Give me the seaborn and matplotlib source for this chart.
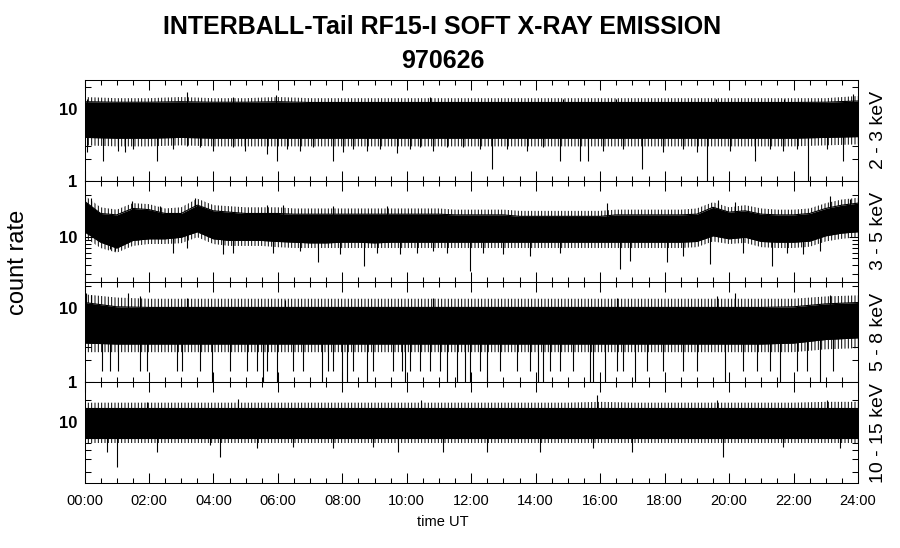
import numpy as np
import pandas as pd
import matplotlib
matplotlib.use('Agg')
import matplotlib.pyplot as plt
import matplotlib.ticker as mticker
import seaborn as sns

sns.set_style('ticks')
plt.rcParams['font.family'] = ['Liberation Sans', 'DejaVu Sans']
plt.rcParams['text.color'] = 'black'
plt.rcParams['xtick.color'] = 'black'
plt.rcParams['ytick.color'] = 'black'
plt.rcParams['axes.labelcolor'] = 'black'
plt.rcParams['hatch.color'] = 'black'
plt.rcParams['hatch.linewidth'] = 0.7

# ---- data (count rate envelopes, hours UT) ----
hours = list(range(25))
half_hours = list(np.arange(0, 24.5, 0.5))

# 2 - 3 keV
p1_top_fuzz = [14.5, 14, 14, 14.5, 14, 14, 14.5, 14, 14, 14, 14, 14, 14,
               14, 14, 14, 14, 14, 14, 14, 14, 14, 14, 14, 15]
p1_top = [12.5, 12.3, 12.3, 12.5, 12.3, 12.3, 12.5, 12.2, 12.2, 12.2, 12.2, 12.2, 12.2,
          12.2, 12.2, 12.2, 12.2, 12.2, 12.2, 12.2, 12.2, 12.2, 12.2, 12.3, 12.8]
p1_bot = [4.0, 3.9, 3.9, 4.0, 3.9, 3.9, 3.9, 3.9, 3.9, 3.9, 3.9, 3.9, 3.9,
          3.9, 3.9, 3.9, 3.9, 3.9, 3.9, 3.9, 3.9, 3.9, 3.9, 4.0, 4.1]
p1_bot_fuzz = [3.1, 3.0, 3.0, 3.1, 3.0, 3.0, 3.0, 3.0, 3.0, 3.0, 3.0, 3.0, 3.0,
               3.0, 3.0, 3.0, 3.0, 3.0, 3.0, 3.0, 3.0, 3.0, 3.0, 3.1, 3.2]
p1_dn_t = [0.07, 0.58, 1.05, 1.26, 1.51, 2.24, 2.76, 3.17, 3.58, 4.0, 4.62, 4.98, 5.65,
           5.96, 6.27, 6.69, 7.1, 7.72, 8.03, 8.34, 8.76, 9.17, 9.69, 10.1, 10.41, 10.82,
           11.24, 11.75, 12.27, 12.63, 13.1, 13.72, 14.23, 14.75, 15.37, 15.63, 16.1, 16.72,
           17.29, 17.96, 18.58, 19.0, 19.31, 20.03, 20.8, 21.27, 21.68, 22.1, 22.46, 23.03, 23.54]
p1_dn_v = [2.48, 1.9, 2.62, 2.48, 2.77, 1.9, 2.77, 3.08, 2.91, 2.62, 2.91, 2.62, 2.35,
           1.9, 2.77, 2.62, 2.91, 1.9, 2.48, 2.77, 2.62, 2.77, 2.45, 2.77, 2.91, 2.62,
           2.91, 2.91, 2.77, 1.46, 2.77, 2.62, 2.91, 1.9, 1.9, 1.9, 2.62, 2.77,
           1.46, 2.48, 2.77, 2.48, 1.0, 2.62, 1.9, 2.77, 2.62, 2.77, 1.0, 2.77, 1.9]
p1_up_t = [0.07, 3.17, 4.62, 5.93, 10.72, 14.86, 16.5, 19.6, 21.7, 23.85]
p1_up_v = [13.8, 17.0, 14.5, 15.3, 14.5, 13.8, 13.8, 13.8, 13.8, 16.2]

# 3 - 5 keV
p2_top_fuzz = [40, 27, 25, 31, 30, 26, 27, 36, 29, 28,
               27, 27, 27, 26, 26, 26, 26, 26, 26, 26,
               26, 26, 26, 25, 25, 25, 25, 24, 24, 24,
               24, 24, 24, 25, 25, 25, 25, 25, 26, 32,
               27, 29, 26, 25, 25, 26, 31, 35, 37]
p2_top = [33, 22, 21, 26, 25, 22, 22, 29, 24, 23,
          22, 22, 22, 21.5, 21.5, 21.5, 21.5, 21.5, 21.5, 21.5,
          21.5, 21.5, 21.5, 21, 21, 21, 21, 20, 20, 20,
          20, 20, 20, 21, 21, 21, 21, 21, 21.5, 27,
          23, 24, 21.5, 21, 21, 22, 26, 29, 31]
p2_bot = [12, 8.5, 7, 9, 9.5, 9.5, 10, 12, 9.5, 9,
          9, 9, 8.7, 8.5, 8.3, 8.3, 8.5, 8.5, 8.3, 8.5,
          8.5, 8.5, 8.5, 8.5, 8.5, 8.5, 8.5, 8.5, 8.5, 8.5,
          8.5, 8.5, 8.5, 8.5, 8.5, 8.5, 8.5, 8.5, 8.7, 10.5,
          9.5, 10, 8.7, 8.5, 8.5, 8.8, 10.5, 11.5, 12]
p2_bot_fuzz = [10, 7, 6, 7.5, 8, 8, 8.2, 10, 8, 7.5,
               7.5, 7.5, 7.2, 7, 7, 7, 7, 7, 7, 7,
               7, 7, 7, 7, 7, 7, 7, 7, 7, 7,
               7, 7, 7, 7, 7, 7, 7, 7, 7.2, 8.7,
               8, 8.3, 7.2, 7, 7, 7.3, 8.7, 9.5, 10]
p2_dn_t = [0.79, 0.95, 2.76, 3.17, 4.31, 4.62, 5.86, 6.69, 7.25, 7.93, 8.66, 9.07, 9.79,
           10.31, 10.82, 11.24, 11.96, 12.37, 12.99, 13.82, 14.75, 16.61, 16.93, 18.06,
           18.58, 19.41, 20.44, 21.32, 21.79, 22.3, 22.82]
p2_dn_v = [6.7, 6.4, 6.0, 7.0, 5.7, 6.0, 6.0, 6.4, 4.35, 5.7, 3.9, 6.0, 5.7,
           6.0, 6.4, 6.0, 3.3, 6.0, 5.7, 5.4, 6.0, 3.5, 4.6, 4.35,
           5.4, 4.1, 6.0, 3.9, 6.0, 5.7, 6.4]
p2_up_t = [0.0, 0.2, 1.46, 2.34, 3.43, 5.65, 6.17, 7.72, 9.38, 16.2, 19.67, 20.18, 23.13, 23.75]
p2_up_v = [41, 37, 33, 28, 37, 29.6, 29.6, 28, 28, 31.2, 34.9, 32, 38.9, 35]

# 5 - 8 keV
p3_top_fuzz = [15.5, 14, 13.5, 13.5, 13.5, 13.5, 13.5, 13.5, 13.5, 13.5, 13.5, 13.5, 13.5,
               13.5, 13.5, 13.5, 13.5, 13.5, 13.5, 13.5, 13.5, 13.5, 13.5, 14.5, 15]
p3_top = [12, 10.5, 10.3, 10.3, 10.3, 10.3, 10.3, 10.3, 10.3, 10.3, 10.3, 10.3, 10.3,
          10.3, 10.3, 10.3, 10.3, 10.3, 10.3, 10.3, 10.3, 10.3, 10.5, 11.5, 12]
p3_bot = [3.4, 3.3, 3.3, 3.3, 3.3, 3.3, 3.3, 3.3, 3.3, 3.3, 3.3, 3.3, 3.3,
          3.3, 3.3, 3.3, 3.3, 3.3, 3.3, 3.3, 3.3, 3.3, 3.4, 3.8, 4.0]
p3_bot_fuzz = [2.56, 2.56, 2.56, 2.56, 2.56, 2.56, 2.56, 2.56, 2.56, 2.56, 2.56, 2.56, 2.56,
               2.56, 2.56, 2.56, 2.56, 2.56, 2.56, 2.56, 2.56, 2.56, 2.56, 2.8, 2.9]
p3_dn_t = [0.53, 0.79, 1.05, 1.72, 1.93, 2.86, 3.02, 3.58, 4.51, 5.03, 5.34, 5.65, 6.48,
           6.79, 7.56, 7.72, 8.34, 8.96, 9.58, 9.84, 10.1, 10.41, 10.72, 11.03,
           12.27, 12.89, 13.41, 13.82, 14.44, 14.75, 15.17, 16.51, 16.72, 17.44, 17.96,
           18.58, 19.0, 20.44, 20.86, 21.27, 22.1, 22.41, 23.23,
           3.95, 5.55, 5.96, 7.36, 7.98, 8.13, 8.76, 9.94, 11.24, 11.55, 11.81, 11.96,
           12.48, 14.08, 14.23, 15.68, 15.79, 16.15, 17.08, 19.87, 21.58, 22.82]
p3_dn_v = [1.44, 1.44, 1.44, 1.44, 1.44, 1.44, 1.44, 1.44, 1.44, 1.44, 1.44, 1.44, 1.44,
           1.44, 1.44, 1.44, 1.44, 1.44, 1.44, 1.44, 1.44, 1.44, 1.44, 1.44,
           1.44, 1.44, 1.44, 1.44, 1.44, 1.44, 1.44, 1.44, 1.44, 1.44, 1.44,
           1.44, 1.44, 1.44, 1.44, 1.44, 1.44, 1.44, 1.44,
           1.0, 1.0, 1.0, 1.0, 1.0, 1.0, 1.0, 1.0, 1.0, 1.0, 1.0, 1.0,
           1.0, 1.0, 1.0, 1.0, 1.0, 1.0, 1.0, 1.0, 1.0, 1.0]
p3_up_t = [0.05, 0.2, 1.36, 1.72, 3.17, 6.22, 10.82, 16.51, 19.62, 20.18, 23.13]
p3_up_v = [16, 15, 16, 14.5, 13.7, 13, 13.7, 13.7, 14.5, 16, 15.3]

# 10 - 15 keV
p4_top_fuzz = [18.5, 18.5, 18.5, 18.5, 18.5, 18.5, 18.5, 18.5, 18.5, 18.5, 18.5, 18.5, 18.5,
               18.5, 18.5, 18.5, 19, 18.5, 18.5, 18.5, 18.5, 18.5, 18.5, 19, 19]
p4_top = [15.5, 15.5, 15.5, 15.5, 15.5, 15.5, 15.5, 15.5, 15.5, 15.5, 15.5, 15.5, 15.5,
          15.5, 15.5, 15.5, 15.5, 15.5, 15.5, 15.5, 15.5, 15.5, 15.5, 15.5, 15.5]
p4_bot = [6.0, 6.0, 6.0, 6.0, 6.0, 6.0, 6.0, 6.0, 6.0, 6.0, 6.0, 6.0, 6.0,
          6.0, 6.0, 6.0, 6.0, 6.0, 6.0, 6.0, 6.0, 6.0, 6.0, 6.0, 6.0]
p4_bot_fuzz = [5.0, 5.0, 5.0, 5.0, 5.0, 5.0, 5.0, 5.0, 5.0, 5.0, 5.0, 5.0, 5.0,
               5.0, 5.0, 5.0, 5.0, 5.0, 5.0, 5.0, 5.0, 5.0, 5.0, 5.0, 5.0]
p4_dn_t = [0.69, 1.0, 2.24, 3.89, 4.2, 5.34, 6.48, 7.72, 8.96, 9.74, 11.13,
           12.48, 14.13, 15.79, 16.98, 19.82, 21.68, 23.44]
p4_dn_v = [3.83, 2.37, 3.83, 4.7, 3.27, 4.27, 4.5, 4.27, 4.5, 3.83, 3.83,
           3.83, 3.83, 4.27, 3.83, 3.27, 4.5, 4.27]
p4_up_t = [1.93, 4.77, 10.45, 15.9, 19.62, 23.03]
p4_up_v = [19, 21.1, 20, 23.5, 20, 20]

energy_labels = ['2 - 3 keV', '3 - 5 keV', '5 - 8 keV', '10 - 15 keV']
hour_ticks = list(range(0, 25, 2))

panels = [
    dict(t=hours, tf=p1_top_fuzz, tp=p1_top, bt=p1_bot, bf=p1_bot_fuzz,
         dt=p1_dn_t, dv=p1_dn_v, ut=p1_up_t, uv=p1_up_v, base=7,
         ylim=(1, 25), major=[1, 10], minor=[2, 3, 20]),
    dict(t=half_hours, tf=p2_top_fuzz, tp=p2_top, bt=p2_bot, bf=p2_bot_fuzz,
         dt=p2_dn_t, dv=p2_dn_v, ut=p2_up_t, uv=p2_up_v, base=14,
         ylim=(2.3, 65), major=[10], minor=[3, 4, 5, 6, 7, 8, 9, 40]),
    dict(t=hours, tf=p3_top_fuzz, tp=p3_top, bt=p3_bot, bf=p3_bot_fuzz,
         dt=p3_dn_t, dv=p3_dn_v, ut=p3_up_t, uv=p3_up_v, base=6,
         ylim=(1, 23), major=[1, 10], minor=[2, 3, 20]),
    dict(t=hours, tf=p4_top_fuzz, tp=p4_top, bt=p4_bot, bf=p4_bot_fuzz,
         dt=p4_dn_t, dv=p4_dn_v, ut=p4_up_t, uv=p4_up_v, base=9,
         ylim=(1.39, 35.5), major=[10], minor=[2, 3, 4, 5, 20]),
]

fig = plt.figure(figsize=(9, 5.48), dpi=100)
W, H = 900, 548
left_px, right_px = 84.5, 858
top_px, panel_h = 80, 100.8

for i, p in enumerate(panels):
    y0 = top_px + i * panel_h
    ax = fig.add_axes([left_px / W, 1 - (y0 + panel_h) / H,
                       (right_px - left_px) / W, panel_h / H])
    ax.set_yscale('log')

    df = pd.DataFrame({'t': p['t'], 'top': p['tp'], 'bot': p['bt']})
    ax.fill_between(df['t'], df['bot'], df['top'], color='black', lw=0)
    ax.fill_between(p['t'], p['tp'], p['tf'], facecolor='none', edgecolor='black',
                    hatch='|||||', lw=0)
    ax.fill_between(p['t'], p['bf'], p['bt'], facecolor='none', edgecolor='black',
                    hatch='|||||', lw=0)
    sns.lineplot(data=df, x='t', y='top', color='black', lw=0.8, ax=ax)
    sns.lineplot(data=df, x='t', y='bot', color='black', lw=0.8, ax=ax)
    ax.vlines(p['dt'], p['dv'], p['base'], color='black', lw=0.8)
    ax.vlines(p['ut'], p['base'], p['uv'], color='black', lw=0.8)

    ax.set_xlim(0, 24)
    ax.set_ylim(*p['ylim'])
    ax.yaxis.set_major_locator(mticker.FixedLocator(p['major']))
    ax.yaxis.set_major_formatter(mticker.FuncFormatter(lambda v, pos: f'{v:g}'))
    ax.yaxis.set_minor_locator(mticker.FixedLocator(p['minor']))
    ax.yaxis.set_minor_formatter(mticker.NullFormatter())
    ax.xaxis.set_major_locator(mticker.FixedLocator(hour_ticks))
    ax.xaxis.set_minor_locator(mticker.MultipleLocator(0.5))
    ax.tick_params(axis='both', which='both', direction='in', top=True, right=True,
                   color='black', width=0.75)
    ax.tick_params(axis='x', which='major', length=7.2)
    ax.tick_params(axis='x', which='minor', length=3.6)
    ax.tick_params(axis='y', which='major', length=6.5, pad=5, labelsize=12)
    ax.tick_params(axis='y', which='minor', length=4)
    for lab in ax.get_yticklabels():
        lab.set_fontweight('bold')
    for s in ax.spines.values():
        s.set_visible(True)
        s.set_linewidth(0.75)
        s.set_color('black')
    ax.set_xlabel('')
    ax.set_ylabel('')
    ax.set_facecolor('white')
    ax.text(1.027, 0.5, energy_labels[i], transform=ax.transAxes, rotation=90,
            ha='center', va='center', fontsize=14)
    if i < 3:
        ax.set_xticklabels([])
    else:
        ax.xaxis.set_major_formatter(mticker.FuncFormatter(lambda h, pos: f'{int(h):02d}:00'))
        ax.tick_params(axis='x', which='major', pad=8, labelsize=10.5)

fig.text(442.5 / W, 1 - 27 / H, 'INTERBALL-Tail RF15-I SOFT X-RAY EMISSION',
         ha='center', va='center', fontsize=18, fontweight='bold')
fig.text(442.5 / W, 1 - 61 / H, '970626', ha='center', va='center',
         fontsize=18, fontweight='bold')
fig.text(18 / W, 1 - 262 / H, 'count rate', rotation=90, ha='center', va='center',
         fontsize=17)
fig.text(443 / W, 1 - 522 / H, 'time UT', ha='center', va='center', fontsize=10.5)

fig.savefig('out.png', dpi=100, facecolor='white')
